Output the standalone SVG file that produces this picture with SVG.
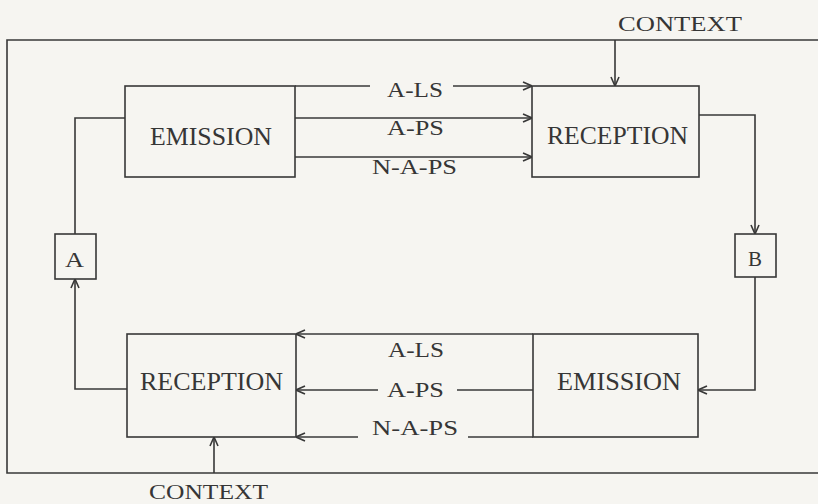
<svg xmlns="http://www.w3.org/2000/svg" width="818" height="504" viewBox="0 0 818 504">
<defs>
<marker id="arr" viewBox="0 0 10 10" refX="10" refY="5" markerWidth="10" markerHeight="10" markerUnits="userSpaceOnUse" orient="auto">
<path d="M1,1 L10,5 L1,9" fill="none" stroke="#383838" stroke-width="1.6"/>
</marker>
</defs>
<style>
.ln{fill:none;stroke:#383838;stroke-width:1.6}
.bx{fill:none;stroke:#383838;stroke-width:1.6}
.t{font-family:"Liberation Serif","DejaVu Serif",serif;fill:#363636}
.big{font-size:26px}
.mid{font-size:22px}
.sm{font-size:22px}
</style>
<rect x="0" y="0" width="818" height="504" fill="#f6f5f1"/>
<g id="frame"><path class="ln" d="M818,40 H7 V473 H818"/></g>
<g id="connectors">
<path class="ln" d="M295,86 H370"/>
<path class="ln" d="M453,86 H532" marker-end="url(#arr)"/>
<path class="ln" d="M295,118 H532" marker-end="url(#arr)"/>
<path class="ln" d="M295,157 H532" marker-end="url(#arr)"/>
<path class="ln" d="M125,118 H75 V234"/>
<path class="ln" d="M127,389 H75 V279" marker-end="url(#arr)"/>
<path class="ln" d="M699,115 H755 V234" marker-end="url(#arr)"/>
<path class="ln" d="M755,277 V390 H698" marker-end="url(#arr)"/>
<path class="ln" d="M533,334 H296" marker-end="url(#arr)"/>
<path class="ln" d="M533,390 H457"/>
<path class="ln" d="M378,390 H296" marker-end="url(#arr)"/>
<path class="ln" d="M533,437 H468"/>
<path class="ln" d="M358,437 H296" marker-end="url(#arr)"/>
<path class="ln" d="M615,40 V86" marker-end="url(#arr)"/>
<path class="ln" d="M214,473 V437" marker-end="url(#arr)"/>
<text class="t sm" x="387" y="97" textLength="56" lengthAdjust="spacingAndGlyphs">A-LS</text>
<text class="t sm" x="387" y="135" textLength="57" lengthAdjust="spacingAndGlyphs">A-PS</text>
<text class="t sm" x="372" y="174" textLength="85" lengthAdjust="spacingAndGlyphs">N-A-PS</text>
<text class="t sm" x="388" y="357" textLength="56" lengthAdjust="spacingAndGlyphs">A-LS</text>
<text class="t sm" x="387" y="397" textLength="57" lengthAdjust="spacingAndGlyphs">A-PS</text>
<text class="t sm" x="372" y="435" textLength="86" lengthAdjust="spacingAndGlyphs">N-A-PS</text>
</g>
<g id="context-top"><text class="t mid" x="618" y="31" textLength="124" lengthAdjust="spacingAndGlyphs">CONTEXT</text></g>
<g id="context-bottom"><text class="t mid" x="149" y="499" textLength="119" lengthAdjust="spacingAndGlyphs">CONTEXT</text></g>
<g id="emission-top">
<rect class="bx" x="125" y="86" width="170" height="91"/>
<text class="t big" x="150" y="145" textLength="122" lengthAdjust="spacingAndGlyphs">EMISSION</text>
</g>
<g id="reception-top">
<rect class="bx" x="532" y="86" width="167" height="91"/>
<text class="t big" x="547" y="144" textLength="141" lengthAdjust="spacingAndGlyphs">RECEPTION</text>
</g>
<g id="node-a">
<rect class="bx" x="55" y="234" width="41" height="45"/>
<text class="t sm" x="65" y="267" textLength="19" lengthAdjust="spacingAndGlyphs">A</text>
</g>
<g id="node-b">
<rect class="bx" x="735" y="234" width="41" height="43"/>
<text class="t sm" x="748" y="266" textLength="14" lengthAdjust="spacingAndGlyphs">B</text>
</g>
<g id="emission-bottom">
<rect class="bx" x="533" y="334" width="165" height="103"/>
<text class="t big" x="557" y="390" textLength="124" lengthAdjust="spacingAndGlyphs">EMISSION</text>
</g>
<g id="reception-bottom">
<rect class="bx" x="127" y="334" width="169" height="103"/>
<text class="t big" x="140" y="390" textLength="143" lengthAdjust="spacingAndGlyphs">RECEPTION</text>
</g>
</svg>
